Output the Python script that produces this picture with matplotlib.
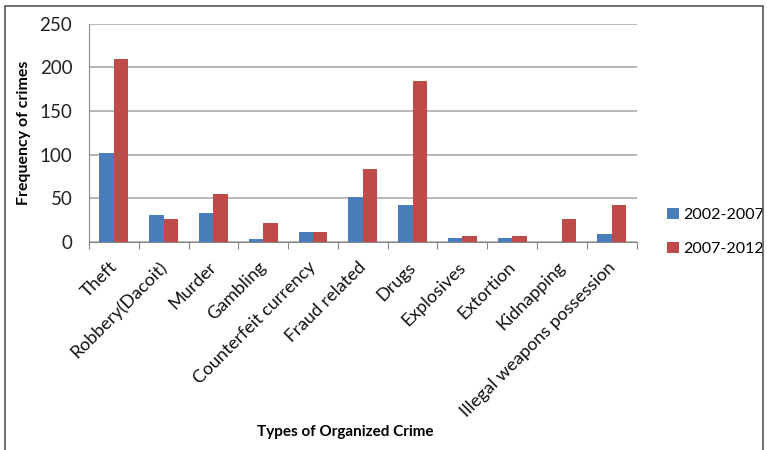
import numpy as np
import matplotlib
matplotlib.use("Agg")
import matplotlib.pyplot as plt
import matplotlib.transforms as mtransforms
from matplotlib.patches import Rectangle

categories = ["Theft", "Robbery(Dacoit)", "Murder", "Gambling", "Counterfeit currency",
              "Fraud related", "Drugs", "Explosives", "Extortion", "Kidnapping",
              "Illegal weapons possession"]
s2002_2007 = [102, 31, 33, 3, 11, 52, 42, 5, 5, 0, 9]
s2007_2012 = [210, 27, 55, 22, 12, 84, 185, 7, 7, 27, 42]
series_names = ["2002-2007", "2007-2012"]

plt.rcParams['font.family'] = ['Lato', 'DejaVu Sans']

fig = plt.figure(figsize=(7.67, 4.5), dpi=100)
ax = fig.add_axes([0.116, 0.462, 0.714, 0.485])

x = np.arange(len(categories))
w = 0.29
ax.bar(x - w / 2, s2002_2007, w, color="#4a7ebb", label=series_names[0], zorder=3)
ax.bar(x + w / 2, s2007_2012, w, color="#be4b48", label=series_names[1], zorder=3)

ax.set_xlim(-0.5, len(categories) - 0.5)
ax.set_ylim(0, 250)
ax.set_yticks(range(0, 251, 50))
ax.yaxis.grid(True, color="#b3a9a9", linewidth=1.2, zorder=0)
ax.tick_params(axis="y", length=0, labelsize=13.5, colors="#222222", pad=12)

# ticks between the category groups, labels at the centres
ax.set_xticks(np.arange(-0.5, len(categories), 1.0))
ax.set_xticklabels([])
ax.tick_params(axis="x", which="major", length=5, color="#888888", direction="out")
ax.set_xticks(x, minor=True)
ax.set_xticklabels(categories, minor=True, rotation=45, ha="right", va="top",
                   rotation_mode="anchor", fontsize=13, color="#111111")
ax.tick_params(axis="x", which="minor", length=0, pad=12)
shift = mtransforms.ScaledTranslation(-5 / 100, 0, fig.dpi_scale_trans)
for lbl in ax.get_xticklabels(minor=True):
    lbl.set_transform(lbl.get_transform() + shift)

for side in ["top", "right"]:
    ax.spines[side].set_visible(False)
ax.spines["left"].set_color("#888888")
ax.spines["bottom"].set_color("#888888")

ax.set_ylabel("Frequency of crimes", fontsize=11.5, fontweight="bold", labelpad=6)
fig.text(0.45, 0.032, "Types of Organized Crime", ha="center", fontsize=11,
         fontweight="bold")

ax.legend(loc="center left", bbox_to_anchor=(1.03, 0.045), frameon=False,
          fontsize=11.5, handlelength=0.7, handleheight=0.7, handletextpad=0.3,
          labelspacing=1.25)

fig.patches.append(Rectangle((0.007, -0.05), 0.988, 1.037, transform=fig.transFigure,
                             fill=False, edgecolor="#555555", linewidth=1.2))

fig.savefig("out.png", dpi=100, facecolor="white")
